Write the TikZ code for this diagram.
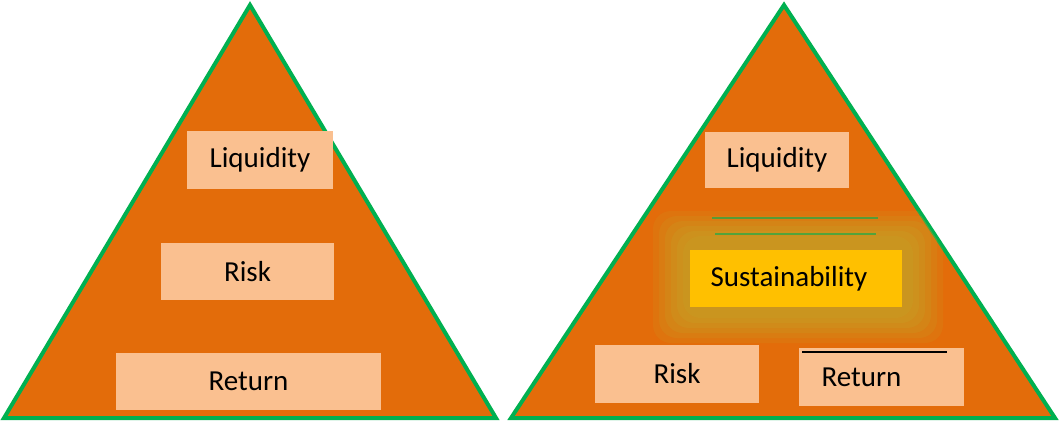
\documentclass[tikz,border=0pt]{standalone}
\usepackage{fontspec}
\setmainfont{Carlito}
\definecolor{triorange}{HTML}{E36C0A}
\definecolor{trigreen}{HTML}{00B050}
\definecolor{boxpeach}{HTML}{FAC090}
\definecolor{boxyellow}{HTML}{FFC000}
\definecolor{glowgold}{HTML}{C99A22}
\tikzset{
  tri/.style={fill=triorange, draw=trigreen, line width=4pt, line join=miter},
  lbl/.style={fill=boxpeach, inner sep=0pt, font=\fontsize{29}{34}\selectfont, text=black},
  sus/.style={fill=boxyellow, inner sep=0pt, font=\fontsize{29}{34}\selectfont, text=black},
}
\begin{document}
\begin{tikzpicture}[x=1pt,y=-1pt]
\useasboundingbox (0,0) rectangle (1059,423);
% triangles
\draw[tri] (250,5) -- (496,418) -- (4,418) -- cycle;
\draw[tri] (784,5) -- (1055,418) -- (511,418) -- cycle;
% left boxes
\node[lbl, minimum width=146pt, minimum height=58pt] (liqL) at (260,160) {Liquidity};
\node[lbl, minimum width=173pt, minimum height=57pt] (riskL) at (247.5,271.5) {Risk};
\node[lbl, minimum width=265pt, minimum height=57pt] (retL) at (248.5,381.5) {Return};
% right boxes
\node[lbl, minimum width=144pt, minimum height=56pt] (liqR) at (777,160) {Liquidity};
% glow, clipped to the right triangle
\begin{scope}
\clip (784,7) -- (1053,416) -- (513,416) -- cycle;
\foreach \i/\o in {0/0.18,1/0.22,2/0.28,3/0.34,4/0.42,5/0.5} {
  \fill[glowgold, opacity=\o, rounded corners=18pt]
    ({653+\i*6},{211+\i*5}) rectangle ({943-\i*6},{343-\i*5});
}
\draw[trigreen, line width=1.5pt, opacity=0.6] (712,218) -- (878,218);
\draw[trigreen, line width=1.5pt, opacity=0.6] (715,234) -- (876,234);
\end{scope}
\node[sus, minimum width=212pt, minimum height=57pt] (susR) at (796,278.5) {Sustainability\rule{14pt}{0pt}};
\node[lbl, minimum width=164pt, minimum height=58pt] (riskR) at (677,374) {Risk};
\node[lbl, minimum width=165pt, minimum height=58pt] (retR) at (881.5,377) {Return\rule{40pt}{0pt}};
\coordinate (blA) at (802,352);
\coordinate (blB) at (947,352);
\draw[black, line width=2pt] (blA) -- (blB);
\end{tikzpicture}
\end{document}
